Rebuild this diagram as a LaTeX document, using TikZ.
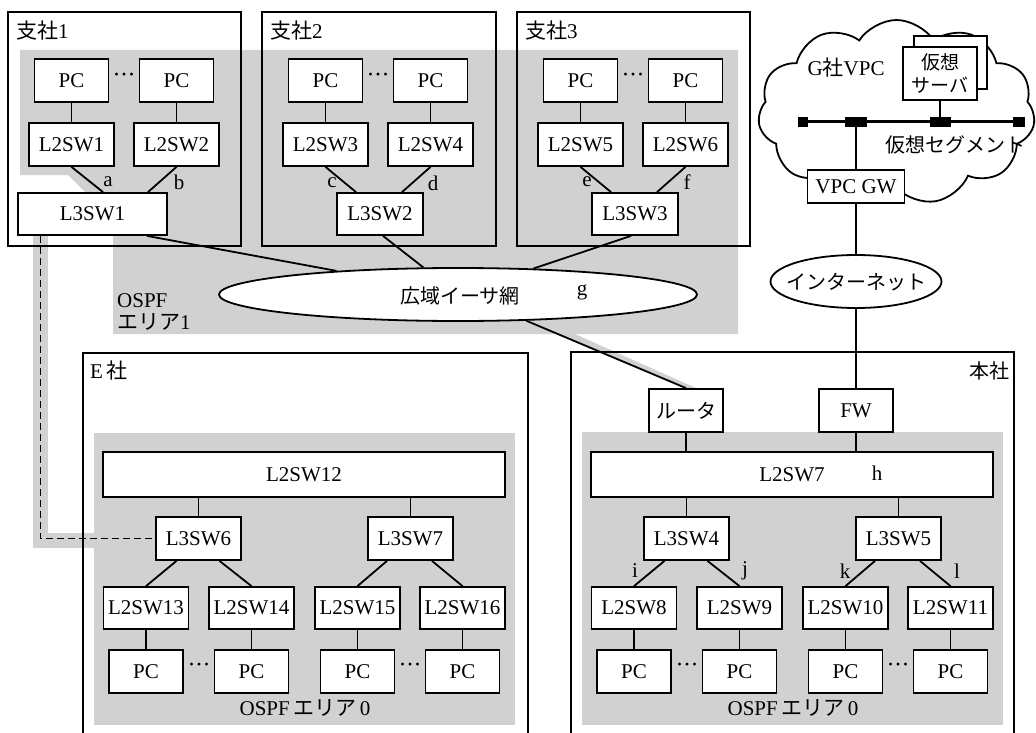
\documentclass[tikz,border=0pt]{standalone}
\usepackage{fontspec}
\setmainfont{Liberation Serif}
\newfontfamily\jpfont{Noto Sans CJK JP}
\usetikzlibrary{shapes.geometric,shapes.symbols}
\newcommand\J[1]{{\jpfont #1}}
\newcommand\tdots{\raisebox{0.35ex}{\textperiodcentered\kern-0.5pt\textperiodcentered\kern-0.5pt\textperiodcentered}}
\begin{document}
\begin{tikzpicture}[x=1pt,y=-1pt,
  every node/.style={font=\fontsize{21}{24}\selectfont, inner sep=0pt},
  box/.style={draw, fill=white, line width=1.8pt, minimum height=43pt},
  pcbox/.style={box, minimum width=74pt},
  swbox/.style={box, minimum width=85pt},
  link/.style={line width=1.8pt},
  frame/.style={line width=1.8pt},
  area/.style={fill=black!18, draw=none},
  dotsl/.style={font=\fontsize{24}{24}\selectfont},
  jp/.style={font=\fontsize{20}{23}\selectfont\jpfont},
]
\useasboundingbox (0,0) rectangle (1036,733);
% ---------- gray areas ----------
\fill[area] (20,50) -- (738,50) -- (738,334) -- (113,334) -- (113,236) -- (86,193) -- (68,175) -- (20,175) -- cycle;
\draw[draw=black!18, line width=15pt] (40.5,235) |- (94,540);
\fill[area] (548,330) -- (566,330) -- (698,389) -- (686,389) -- cycle;
\fill[area] (94,433) rectangle (515,725);
\fill[area] (582,432) rectangle (1003,725);
% ---------- frames ----------
\draw[frame] (8,12) rectangle (241,246);
\draw[frame] (262,12) rectangle (496,246);
\draw[frame] (517,12) rectangle (750,246);
\draw[frame] (83,733) -- (83,353) -- (528,353) -- (528,733);
\draw[frame] (571,733) -- (571,352) -- (1014,352) -- (1014,733);
\node[anchor=west] (t1) at (16,31) {\J{支社}1};
\node[anchor=west] (t2) at (270,31) {\J{支社}2};
\node[anchor=west] (t3) at (525,31) {\J{支社}3};
\node[anchor=west] (te) at (90,371) {E\,\J{社}};
\node[anchor=east, jp] (th) at (1010,371) {本社};
% ---------- branch 1 ----------
\node[pcbox] (pc11) at (71.5,80.5) {PC};
\node[pcbox] (pc12) at (176.5,80.5) {PC};
\node[dotsl] (d11) at (124,80) {\tdots};
\node[swbox] (l2sw1) at (71.5,144.5) {L2SW1};
\node[swbox] (l2sw2) at (176.5,144.5) {L2SW2};
\node[box, minimum width=149pt, minimum height=42pt] (l3sw1) at (92.5,214) {L3SW1};
\draw[link] (pc11) -- (l2sw1);
\draw[link] (pc12) -- (l2sw2);
\draw[link] (l2sw1.south) -- ([xshift=10.5pt]l3sw1.north);
\draw[link] (l2sw2.south) -- ([xshift=55.5pt]l3sw1.north);
\node (la) at (108,182) {a};
\node (lb) at (179,182) {b};
% ---------- branch 2 ----------
\node[pcbox] (pc21) at (325.5,80.5) {PC};
\node[pcbox] (pc22) at (430.5,80.5) {PC};
\node[dotsl] (d21) at (378,80) {\tdots};
\node[swbox] (l2sw3) at (325.5,144.5) {L2SW3};
\node[swbox] (l2sw4) at (430.5,144.5) {L2SW4};
\node[swbox, minimum width=86pt, minimum height=42pt] (l3sw2) at (380,214) {L3SW2};
\draw[link] (pc21) -- (l2sw3);
\draw[link] (pc22) -- (l2sw4);
\draw[link] (l2sw3.south) -- ([xshift=-24pt]l3sw2.north);
\draw[link] (l2sw4.south) -- ([xshift=22pt]l3sw2.north);
\node (lc) at (332,183) {c};
\node (ld) at (433,183) {d};
% ---------- branch 3 ----------
\node[pcbox] (pc31) at (580.5,80.5) {PC};
\node[pcbox] (pc32) at (685.5,80.5) {PC};
\node[dotsl] (d31) at (633,80) {\tdots};
\node[swbox] (l2sw5) at (580.5,144.5) {L2SW5};
\node[swbox] (l2sw6) at (685.5,144.5) {L2SW6};
\node[swbox, minimum width=86pt, minimum height=42pt] (l3sw3) at (635,214) {L3SW3};
\draw[link] (pc31) -- (l2sw5);
\draw[link] (pc32) -- (l2sw6);
\draw[link] (l2sw5.south) -- ([xshift=-24pt]l3sw3.north);
\draw[link] (l2sw6.south) -- ([xshift=22pt]l3sw3.north);
\node (le) at (587,182) {e};
\node (lf) at (687,182) {f};
% ---------- WAN ----------
\node[ellipse, draw, fill=white, line width=1.8pt, minimum width=478pt, minimum height=53pt] (wan) at (458,294.5) {};
\node[jp] (wanl) at (460,296) {広域イーサ網};
\node (lg) at (582,292) {g};
\draw[link] ([xshift=54.5pt]l3sw1.south) -- (wan.169.4);
\draw[link] ([xshift=3pt]l3sw2.south) -- (wan.142.6);
\draw[link] ([xshift=-4pt]l3sw3.south) -- (wan.19);
\node[anchor=west, align=left, font=\fontsize{21}{22}\selectfont] (o1) at (117,312) {OSPF\\\J{エリア}1};
% ---------- cloud ----------
\node[cloud, draw, line width=1.8pt, cloud puffs=11, cloud puff arc=115, aspect=1.5, minimum width=277pt, minimum height=185pt] (vpc) at (896.5,112.5) {};
\node (gv) at (846,68) {G\J{社}VPC};
\node[draw, fill=white, line width=1.8pt, minimum width=73pt, minimum height=53pt] (vsb) at (950.5,62.5) {};
\node[draw, fill=white, line width=1.8pt, minimum width=74pt, minimum height=53pt, align=center, font=\fontsize{19}{23}\selectfont\jpfont] (vs) at (940,73.5) {仮想\\サーバ};
\node[fill=black, minimum width=10pt, minimum height=10pt] (m1) at (803,122) {};
\node[fill=black, minimum width=22pt, minimum height=10pt] (m2) at (856,122) {};
\node[fill=black, minimum width=21pt, minimum height=10pt] (m3) at (940,122) {};
\node[fill=black, minimum width=12pt, minimum height=10pt] (m4) at (1019,122) {};
\draw[line width=3pt] (m1.center) -- (m4.center);
\draw[link] (vs.south) -- (m3);
\node[jp] (segl) at (955,145) {仮想セグメント};
\node[box, minimum width=97pt, minimum height=33pt] (vgw) at (856,186.5) {VPC GW};
\draw[link] (m2) -- (vgw);
% ---------- internet / HQ top ----------
\node[ellipse, draw, fill=white, line width=1.8pt, minimum width=171pt, minimum height=53pt] (inet) at (856,281.5) {};
\node[jp] (inetl) at (856,282) {インターネット};
\draw[link] (vgw) -- (inet);
\node[pcbox, jp] (rt) at (686,410.5) {ルータ};
\node[pcbox] (fw) at (856,410.5) {FW};
\draw[link] (inet) -- (fw);
\draw[link] (wan.339.2) -- (rt.north);
% ---------- HQ ----------
\node[box, minimum width=402pt, minimum height=45pt] (l2sw7) at (792,474.5) {L2SW7};
\node (lh) at (877,473) {h};
\draw[link] (rt.south) -- (rt.south |- l2sw7.north);
\draw[link] (fw.south) -- (fw.south |- l2sw7.north);
\node[swbox] (l3sw4) at (686.5,538.5) {L3SW4};
\node[swbox] (l3sw5) at (898.5,538.5) {L3SW5};
\draw[link] (l3sw4.north |- l2sw7.south) -- (l3sw4.north);
\draw[link] (l3sw5.north |- l2sw7.south) -- (l3sw5.north);
\node[swbox, minimum height=42pt] (l2sw8) at (634,608) {L2SW8};
\node[swbox, minimum height=42pt] (l2sw9) at (739.5,608) {L2SW9};
\node[swbox, minimum height=42pt] (l2sw10) at (845.5,608) {L2SW10};
\node[swbox, minimum height=42pt] (l2sw11) at (950.5,608) {L2SW11};
\draw[link] ([xshift=-22pt]l3sw4.south) -- (l2sw8.north);
\draw[link] ([xshift=21pt]l3sw4.south) -- (l2sw9.north);
\draw[link] ([xshift=-23.5pt]l3sw5.south) -- (l2sw10.north);
\draw[link] ([xshift=21.5pt]l3sw5.south) -- (l2sw11.north);
\node (li) at (635,571) {i};
\node (lj) at (745,571) {j};
\node (lk) at (845,571) {k};
\node (ll) at (957,571) {l};
\node[pcbox] (pc81) at (634,671.5) {PC};
\node[pcbox] (pc82) at (739.5,671.5) {PC};
\node[pcbox] (pc83) at (845.5,671.5) {PC};
\node[pcbox] (pc84) at (950.5,671.5) {PC};
\node[dotsl] (d81) at (687,670) {\tdots};
\node[dotsl] (d82) at (898,670) {\tdots};
\draw[link] (l2sw8) -- (pc81);
\draw[link] (l2sw9) -- (pc82);
\draw[link] (l2sw10) -- (pc83);
\draw[link] (l2sw11) -- (pc84);
\node (o0h) at (793,708) {OSPF\,\J{エリア}\,0};
% ---------- E company ----------
\node[box, minimum width=402pt, minimum height=45pt] (l2sw12) at (304,474.5) {L2SW12};
\node[swbox] (l3sw6) at (198.5,538.5) {L3SW6};
\node[swbox] (l3sw7) at (410.5,538.5) {L3SW7};
\draw[link] (l3sw6.north |- l2sw12.south) -- (l3sw6.north);
\draw[link] (l3sw7.north |- l2sw12.south) -- (l3sw7.north);
\node[swbox, minimum height=42pt] (l2sw13) at (146,608) {L2SW13};
\node[swbox, minimum height=42pt] (l2sw14) at (251.5,608) {L2SW14};
\node[swbox, minimum height=42pt] (l2sw15) at (357.5,608) {L2SW15};
\node[swbox, minimum height=42pt] (l2sw16) at (462.5,608) {L2SW16};
\draw[link] ([xshift=-22pt]l3sw6.south) -- (l2sw13.north);
\draw[link] ([xshift=21pt]l3sw6.south) -- (l2sw14.north);
\draw[link] ([xshift=-23.5pt]l3sw7.south) -- (l2sw15.north);
\draw[link] ([xshift=21.5pt]l3sw7.south) -- (l2sw16.north);
\node[pcbox] (pc131) at (146,671.5) {PC};
\node[pcbox] (pc132) at (251.5,671.5) {PC};
\node[pcbox] (pc133) at (357.5,671.5) {PC};
\node[pcbox] (pc134) at (462.5,671.5) {PC};
\node[dotsl] (d131) at (199,670) {\tdots};
\node[dotsl] (d132) at (410,670) {\tdots};
\draw[link] (l2sw13) -- (pc131);
\draw[link] (l2sw14) -- (pc132);
\draw[link] (l2sw15) -- (pc133);
\draw[link] (l2sw16) -- (pc134);
\node (o0e) at (305,708) {OSPF\,\J{エリア}\,0};
% ---------- dashed link ----------
\coordinate (dk) at (40.5,0);
\draw[link, dash pattern=on 7pt off 4pt] (l3sw1.south -| dk) |- (l3sw6.west);
\end{tikzpicture}
\end{document}
